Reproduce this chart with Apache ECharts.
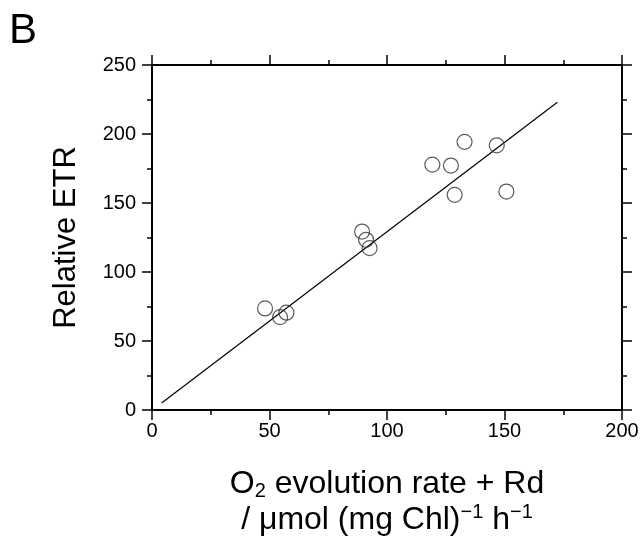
<!DOCTYPE html>
<html>
<head>
<meta charset="utf-8">
<script src="https://cdn.jsdelivr.net/npm/echarts@6/dist/echarts.min.js"></script>
<style>
html,body{margin:0;padding:0;background:#fff;}
#chart{width:643px;height:536px;}
</style>
</head>
<body>
<div id="chart"></div>
<script>
// Data
const o2Rate = [48.1, 54.5, 57.2, 89.4, 91.1, 92.6, 119.3, 127.2, 128.8, 133.0, 146.7, 150.8];
const relETR = [73.6, 67.3, 70.5, 129.3, 123.3, 117.3, 177.8, 177.1, 155.9, 194.3, 191.8, 158.3];
const fitX = [4.1, 172.5];
const fitY = [5.1, 223.0];
const xTicks = [0, 50, 100, 150, 200];
const yTicks = [0, 50, 100, 150, 200, 250];

const FONT = "'Liberation Sans', Arial, sans-serif";
const points = o2Rate.map((x, i) => [x, relETR[i]]);
const fitLine = fitX.map((x, i) => [x, fitY[i]]);

const chart = echarts.init(document.getElementById('chart'), null, {renderer: 'canvas'});

function axisCommon(showLabel, isX) {
  const ticks = isX ? xTicks : yTicks;
  return {
    type: 'value',
    min: ticks[0],
    max: ticks[ticks.length - 1],
    interval: ticks[1] - ticks[0],
    axisLine: {show: true, onZero: false, lineStyle: {color: '#000', width: 2}},
    axisTick: {show: true, inside: false, length: 10, lineStyle: {color: '#000', width: 1.5}},
    minorTick: {show: true, splitNumber: 2, length: 5, lineStyle: {color: '#000', width: 1.5}},
    splitLine: {show: false},
    minorSplitLine: {show: false},
    axisLabel: {
      show: showLabel,
      color: '#000',
      fontFamily: FONT,
      fontSize: 20,
      margin: isX ? 11 : 16
    }
  };
}

const option = {
  animation: false,
  backgroundColor: '#fff',
  grid: {left: 152, right: 21, top: 65, bottom: 126, containLabel: false, outerBoundsMode: 'none'},
  graphic: [{
    type: 'text',
    left: 9,
    top: 10,
    style: {text: 'B', font: "42px 'Liberation Sans', Arial, sans-serif", fill: '#000'}
  }],
  xAxis: [
    Object.assign(axisCommon(true, true), {
      position: 'bottom',
      name: '{a|O}{sub|2}{a| evolution rate + Rd}\n{a|/ μmol (mg Chl)}{sup|−1}{a| h}{sup|−1}',
      nameLocation: 'middle',
      nameGap: 56,
      nameTextStyle: {
        color: '#000',
        fontFamily: FONT,
        fontSize: 32,
        lineHeight: 36,
        rich: {
          a: {fontFamily: FONT, fontSize: 32, color: '#000', lineHeight: 36},
          sub: {fontFamily: FONT, fontSize: 20, color: '#000', lineHeight: 36, padding: [15, 0, 0, 0]},
          sup: {fontFamily: FONT, fontSize: 20, color: '#000', lineHeight: 36, padding: [0, 0, 15, 0]}
        }
      }
    }),
    Object.assign(axisCommon(false, true), {position: 'top'})
  ],
  yAxis: [
    Object.assign(axisCommon(true, false), {
      position: 'left',
      name: 'Relative ETR',
      nameLocation: 'middle',
      nameGap: 70,
      nameTextStyle: {color: '#000', fontFamily: FONT, fontSize: 31}
    }),
    Object.assign(axisCommon(false, false), {position: 'right'})
  ],
  series: [
    {
      type: 'line',
      data: fitLine,
      xAxisIndex: 0,
      yAxisIndex: 0,
      symbol: 'none',
      lineStyle: {color: '#000', width: 1.2},
      silent: true,
      z: 1
    },
    {
      type: 'scatter',
      data: points,
      xAxisIndex: 0,
      yAxisIndex: 0,
      symbol: 'circle',
      symbolSize: 15,
      itemStyle: {color: 'rgba(255,255,255,0)', borderColor: '#333', borderWidth: 1.2},
      z: 2
    }
  ]
};
chart.setOption(option);
</script>
</body>
</html>
